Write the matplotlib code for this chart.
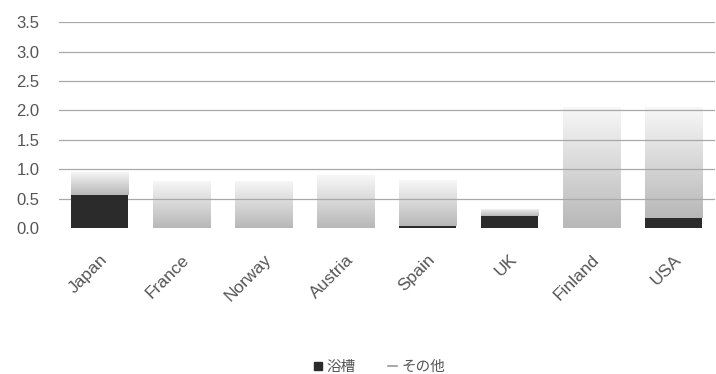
import matplotlib.pyplot as plt
import numpy as np

plt.rcParams['font.family'] = ['Liberation Sans', 'Noto Sans CJK JP', 'DejaVu Sans']

countries = ['Japan', 'France', 'Norway', 'Austria', 'Spain', 'UK', 'Finland', 'USA']
bathtub = [0.56, 0.0, 0.0, 0.0, 0.04, 0.2, 0.0, 0.18]
other = [0.40, 0.80, 0.80, 0.90, 0.78, 0.12, 2.05, 1.87]
yticks = [0.0, 0.5, 1.0, 1.5, 2.0, 2.5, 3.0, 3.5]

fig = plt.figure(figsize=(7.16, 3.74), dpi=100)
ax = fig.add_axes([0.082, 0.39, 0.916, 0.551])

x = np.arange(len(countries))
width = 0.7

# gridlines drawn over the light fill, under the dark bars
for t in yticks[1:]:
    ax.axhline(t, color='#a8a8a8', lw=0.9, zorder=1.8)

bars_bath = ax.bar(x, bathtub, width, color='#2b2b2b', zorder=2, label='浴槽')
bars_other = ax.bar(x, other, width, bottom=bathtub, color='none',
                    zorder=2, label='その他')

# light gray gradient for the "other" part, fading to white at top
top_c = np.array([0.97, 0.97, 0.97])
bot_c = np.array([0.72, 0.72, 0.72])
f = np.linspace(0, 1, 256).reshape(-1, 1, 1)
grad = top_c * (1 - f) + bot_c * f
for b in bars_other:
    x0, y0 = b.get_x(), b.get_y()
    w, h = b.get_width(), b.get_height()
    if h <= 0:
        continue
    im = ax.imshow(grad, aspect='auto', extent=[x0, x0 + w, y0, y0 + h],
                   origin='upper', zorder=1.5)
    im.set_clip_path(b)

ax.set_xlim(-0.5, len(countries) - 0.5)
ax.set_ylim(0, 3.5)
ax.set_yticks(yticks)
ax.set_yticklabels([f'{t:.1f}' for t in yticks])
ax.set_xticks(x)
ax.set_xticklabels(countries, rotation=45, ha='right', rotation_mode='anchor')
ax.tick_params(length=0, labelsize=12, colors='#555555')
ax.tick_params(axis='x', pad=17, labelsize=12.5)
ax.tick_params(axis='y', pad=14)
for s in ax.spines.values():
    s.set_visible(False)

handles = [
    plt.Line2D([], [], marker='s', color='#2b2b2b', linestyle='none', markersize=6),
    plt.Line2D([], [], color='#9a9a9a', lw=1.2),
]
fig.legend(handles, ['浴槽', 'その他'], loc='lower center', ncol=2,
           bbox_to_anchor=(0.53, -0.035), frameon=False,
           handlelength=0.6, handletextpad=0.3, columnspacing=2.2,
           labelcolor='#555555', prop={'family': ['Noto Sans CJK JP'], 'size': 10.5})

fig.savefig('out.png', dpi=100)
